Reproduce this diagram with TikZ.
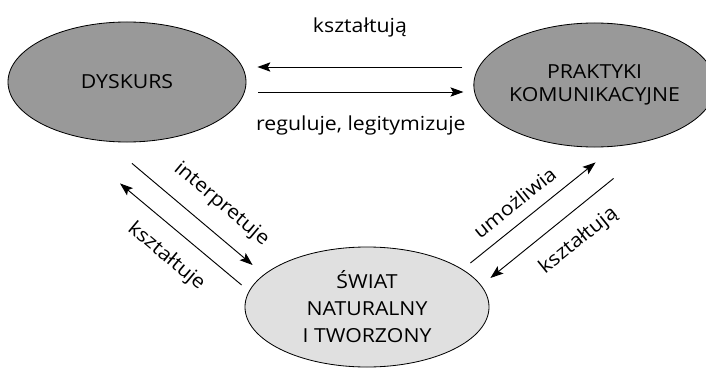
\documentclass[tikz,border=0pt]{standalone}
\usepackage{fontspec}
\setmainfont{Open Sans}[FakeStretch=1.1]
\usepackage{xcolor}
\usetikzlibrary{shapes.geometric, arrows.meta, positioning, calc}

\definecolor{blobdark}{gray}{0.6}
\definecolor{bloblight}{gray}{0.88}

\begin{document}
\begin{tikzpicture}[
        x=0.03cm, y=-0.03cm,
        every node/.style={font=\fontsize{16.5}{20}\selectfont},
        darkblob/.style={ellipse, draw=black, fill=blobdark, line width=0.7pt, inner sep=0pt, align=center, minimum width=7.14cm, minimum height=3.6cm},
        lightblob/.style={ellipse, draw=black, fill=bloblight, line width=0.7pt, inner sep=0pt, align=center, minimum width=7.32cm, minimum height=3.6cm},
        lbl/.style={inner sep=0pt},
        arrow/.style={line width=0.8pt, -{Stealth[length=3.9mm, width=2.8mm, inset=0.8mm]}}
    ]

    \useasboundingbox (0,0) rectangle (706,367);

    % --- NODES ---
    \node (dys) [darkblob] at (127,82) {DYSKURS};
    \node (prak) [darkblob, right=6.81cm of dys, yshift=-0.09cm, minimum width=6.96cm, minimum height=3.72cm, font=\fontsize{16.5}{19.6}\selectfont] {PRAKTYKI\\KOMUNIKACYJNE};
    \node (swiat) [lightblob, font=\fontsize{16.5}{23}\selectfont] at (367,307) {ŚWIAT\\NATURALNY\\I TWORZONY};

    % --- ARROWS ---
    % Dyskurs <-> Praktyki
    \draw [arrow] ($(prak.west)+(-11,-18)$) -- node[lbl, above=25pt] {kształtują} ($(dys.east)+(11,-15)$);
    \draw [arrow] ($(dys.east)+(12,10)$) -- node[lbl, below=20pt] {reguluje, legitymizuje} ($(prak.west)+(-10,7)$);

    % Dyskurs <-> Swiat
    \draw [arrow] ($(dys.south)+(5,21)$) -- node[lbl, pos=0.6, sloped, above=14pt] {interpretuje} ($(swiat.west)+(8,-42)$);
    \draw [arrow] ($(swiat.west)+(-3,-22)$) -- node[lbl, pos=0.48, sloped, below=14pt] {kształtuje} ($(dys.south)+(-7,41)$);

    % Swiat <-> Praktyki
    \draw [arrow] ($(swiat.east)+(-19,-44)$) -- node[lbl, pos=0.45, sloped, above=10pt] {umożliwia} ($(prak.south)+(1,15)$);
    \draw [arrow] ($(prak.south)+(19,31)$) -- node[lbl, pos=0.42, sloped, below=14pt] {kształtują} ($(swiat.east)+(1,-29)$);

\end{tikzpicture}
\end{document}
